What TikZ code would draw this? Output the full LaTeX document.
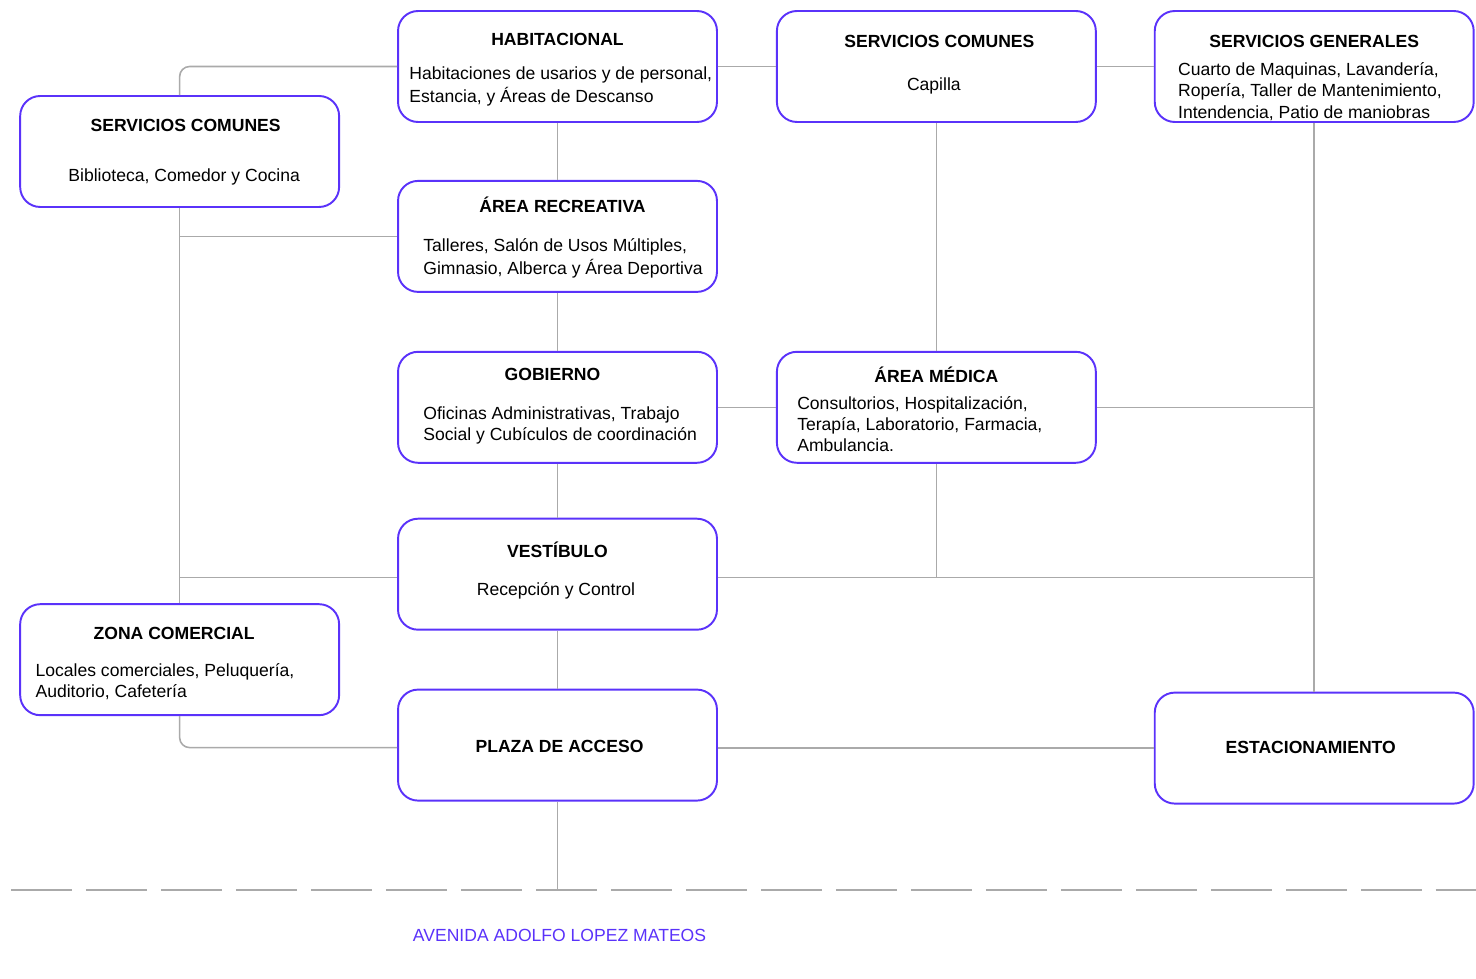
\documentclass[tikz,border=0pt]{standalone}
\usepackage{fontspec}
\setmainfont{Liberation Sans}
\usetikzlibrary{positioning}
\definecolor{zoneblue}{RGB}{90,50,250}
\definecolor{linkgray}{RGB}{170,170,170}

\begin{document}
\begin{tikzpicture}[
    x=0.02cm, y=-0.02cm,
    font=\fontsize{10}{12}\selectfont,
    zone/.style={rectangle, draw=zoneblue, line width=1.1pt, rounded corners=0.4cm,
        minimum width=6.38cm, minimum height=2.22cm},
    zonetitle/.style={anchor=base, inner sep=0pt, font=\fontsize{10}{12}\selectfont\bfseries},
    zoneline/.style={anchor=base, inner sep=0pt},
    zonetext/.style={anchor=base west, align=left, inner sep=0pt},
    link/.style={draw=linkgray, line width=0.9pt, rounded corners=0.2cm},
    road/.style={draw=linkgray, line width=0.9pt, dash pattern=on 1.22cm off 0.28cm}
]
    \useasboundingbox (0,0) rectangle (1476,979);

    \node[zone] (hab) at (557.5,66.5) {};
    \node[zone, right=1.16cm of hab] (scm) {};
    \node[zone, right=1.14cm of scm] (sg) {};
    \node[zone, below=1.14cm of hab] (rec) {};
    \node[zone, below=1.16cm of rec] (gob) {};
    \node[zone, right=1.16cm of gob] (med) {};
    \node[zone, below=1.08cm of gob] (ves) {};
    \node[zone, below=1.16cm of ves] (plaza) {};
    \node[zone, left=1.14cm of hab, yshift=-1.7cm] (scl) {};
    \node[zone, left=1.14cm of ves, yshift=-1.71cm] (zona) {};
    \node[zone, yshift=-0.06cm] (est) at (sg |- plaza) {};

    % base of a block = its last line
    \node[zonetitle] (habT) at ([yshift=-0.70cm]hab.north) {HABITACIONAL};
    \node[zonetext] (habB) at ([xshift=0.24cm, yshift=-1.84cm]hab.north west)
        {Habitaciones de usarios y de personal,\\[1pt] Estancia, y Áreas de Descanso};

    \node[zonetitle] (scmT) at ([xshift=0.06cm, yshift=-0.75cm]scm.north) {SERVICIOS COMUNES};
    \node[zoneline] (scmB) at ([xshift=-0.05cm, yshift=-1.6cm]scm.north) {Capilla};

    \node[zonetitle] (sgT) at ([yshift=-0.75cm]sg.north) {SERVICIOS GENERALES};
    \node[zonetext] (sgB) at ([xshift=0.48cm, yshift=-2.16cm]sg.north west)
        {Cuarto de Maquinas, Lavandería,\\ Ropería, Taller de Mantenimiento,\\ Intendencia, Patio de maniobras};

    \node[zonetitle] (sclT) at ([xshift=0.12cm, yshift=-0.73cm]scl.north) {SERVICIOS COMUNES};
    \node[zoneline] (sclB) at ([xshift=0.09cm, yshift=-1.72cm]scl.north) {Biblioteca, Comedor y Cocina};

    \node[zonetitle] (recT) at ([xshift=0.1cm, yshift=-0.65cm]rec.north) {ÁREA RECREATIVA};
    \node[zonetext] (recB) at ([xshift=0.52cm, yshift=-1.9cm]rec.north west)
        {Talleres, Salón de Usos Múltiples,\\[1.6pt] Gimnasio, Alberca y Área Deportiva};

    \node[zonetitle] (gobT) at ([xshift=-0.1cm, yshift=-0.59cm]gob.north) {GOBIERNO};
    \node[zonetext] (gobB) at ([xshift=0.52cm, yshift=-1.8cm]gob.north west)
        {Oficinas Administrativas, Trabajo\\ Social y Cubículos de coordinación};

    \node[zonetitle] (medT) at ([yshift=-0.63cm]med.north) {ÁREA MÉDICA};
    \node[zonetext] (medB) at ([xshift=0.42cm, yshift=-2.02cm]med.north west)
        {Consultorios, Hospitalización,\\ Terapía, Laboratorio, Farmacia,\\ Ambulancia.};

    \node[zonetitle] (vesT) at ([yshift=-0.79cm]ves.north) {VESTÍBULO};
    \node[zoneline] (vesB) at ([xshift=-0.03cm, yshift=-1.56cm]ves.north) {Recepción y Control};

    \node[zonetitle] (zonaT) at ([xshift=-0.11cm, yshift=-0.72cm]zona.north) {ZONA COMERCIAL};
    \node[zonetext] (zonaB) at ([xshift=0.32cm, yshift=-1.89cm]zona.north west)
        {Locales comerciales, Peluquería,\\ Auditorio, Cafetería};

    \node[zonetitle] (plazaT) at ([xshift=0.04cm, yshift=-0.14cm]plaza.center) {PLAZA DE ACCESO};
    \node[zonetitle] (estT) at ([xshift=-0.07cm, yshift=-0.1cm]est.center) {ESTACIONAMIENTO};

    % avenida
    \coordinate (roadW) at (11,890);
    \coordinate (roadE) at (1476,890);
    \draw[road] (roadW) -- (roadE);
    \node[zoneline, text=zoneblue] (avenida) at ([xshift=0.04cm, yshift=-2.8cm]plaza.south)
        {AVENIDA ADOLFO LOPEZ MATEOS};

    % the vestibule row runs a bit below its centre
    \coordinate (vesW) at ([yshift=-0.07cm]ves.west);
    \coordinate (vesE) at ([yshift=-0.07cm]ves.east);
    \coordinate (plazaW) at ([yshift=-0.05cm]plaza.west);

    \draw[link] (hab.west) -| (scl.north);
    \draw[link] (hab.east) -- (scm.west);
    \draw[link] (scm.east) -- (sg.west);
    \draw[link] (hab.south) -- (rec.north);
    \draw[link] (rec.south) -- (gob.north);
    \draw[link] (gob.south) -- (ves.north);
    \draw[link] (ves.south) -- (plaza.north);
    \draw[link] (gob.east) -- (med.west);
    \draw[link] (scm.south) -- (med.north);
    \draw[link] (scl.south) -- (zona.north);
    \draw[link] (rec.west) -- (rec.west -| scl.south);
    \draw[link] (vesW) -- (vesW -| scl.south);
    \draw[link] (zona.south) |- (plazaW);
    \draw[link] (sg.south) -- (est.north);
    \draw[link] (med.east) -- (med.east -| sg.south);
    \draw[link] (vesE) -- (vesE -| sg.south);
    \draw[link] (med.south) -- (med.south |- vesE);
    \draw[link] (est.west) -- (est.west -| plaza.east);
    \draw[link] (plaza.south) -- (plaza.south |- roadW);
\end{tikzpicture}
\end{document}
